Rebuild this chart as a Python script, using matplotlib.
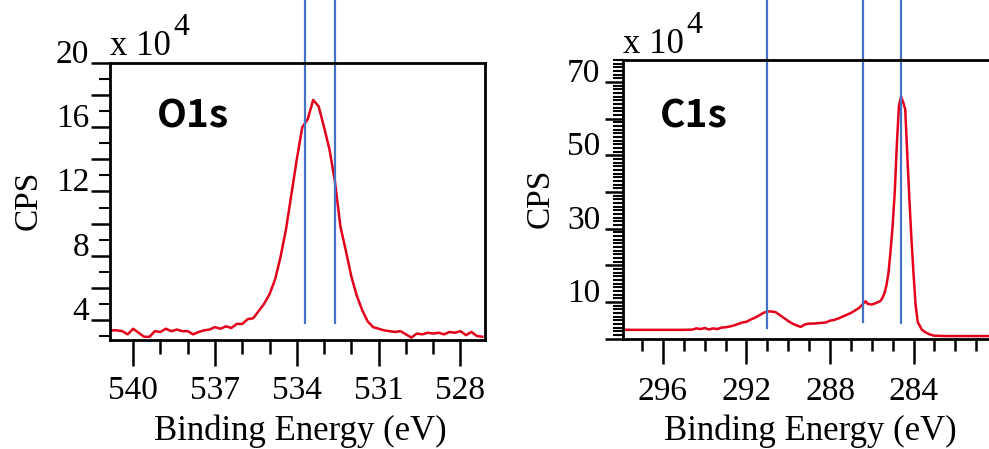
import numpy as np
import matplotlib.pyplot as plt
from matplotlib.ticker import MultipleLocator, FuncFormatter

# O 1s region, 0.2 eV steps from 540.8 down to 527.2 eV (counts in units of 1e4)
o1s_energy = np.round(np.arange(540.8, 527.1, -0.2), 1)
o1s_cps = [3.35, 3.35, 3.30, 3.10, 3.45, 3.20, 2.95, 2.95, 3.30, 3.25,
           3.45, 3.30, 3.40, 3.30, 3.30, 3.10, 3.25, 3.35, 3.40, 3.55,
           3.45, 3.60, 3.50, 3.75, 3.75, 4.05, 4.10, 4.55, 5.00, 5.60,
           6.50, 7.90, 9.60, 11.8, 14.0, 16.0, 16.5, 17.7, 17.3, 16.0,
           14.6, 12.6, 9.80, 8.30, 6.70, 5.50, 4.60, 3.90, 3.55, 3.45,
           3.35, 3.30, 3.25, 3.30, 3.10, 2.90, 3.15, 3.10, 3.20, 3.15,
           3.20, 3.10, 3.25, 3.20, 3.30, 3.05, 3.25, 3.00, 2.95]

# C 1s region (counts in units of 1e4)
c1s_energy = [297.9, 297.0, 296.0, 295.0, 294.6, 294.4, 294.2, 294.0, 293.8, 293.6,
              293.4, 293.2, 293.0, 292.8, 292.6, 292.4, 292.2, 292.0, 291.8, 291.6,
              291.4, 291.2, 291.0, 290.8, 290.6, 290.4, 290.2, 290.0, 289.8, 289.6,
              289.4, 289.2, 289.0, 288.8, 288.6, 288.4, 288.2, 288.0, 287.8, 287.6,
              287.4, 287.2, 287.0, 286.8, 286.6, 286.4, 286.3, 286.2, 286.0, 285.8,
              285.6, 285.5, 285.4, 285.3, 285.2, 285.1, 285.0, 284.9, 284.8, 284.7,
              284.6, 284.5, 284.4, 284.3, 284.2, 284.1, 284.0, 283.9, 283.8, 283.6,
              283.4, 283.2, 283.0, 282.5, 282.0, 281.0, 280.0]
c1s_cps = [2.4, 2.4, 2.4, 2.4, 2.45, 2.8, 2.6, 2.9, 2.5, 2.8,
           2.6, 3.0, 3.1, 3.3, 3.6, 4.0, 4.4, 4.6, 5.2, 5.7,
           6.3, 7.0, 7.4, 7.4, 7.2, 6.4, 5.6, 4.8, 4.1, 3.6,
           3.2, 3.9, 4.1, 4.1, 4.2, 4.3, 4.4, 4.9, 5.1, 5.5,
           6.0, 6.5, 7.0, 7.7, 8.4, 9.6, 10.2, 9.5, 9.3, 9.7,
           10.2, 11.0, 12.3, 14.5, 18.0, 24.0, 31.0, 40.0, 53.0, 63.5,
           66.0, 64.5, 62.5, 50.0, 38.0, 27.0, 17.5, 9.0, 4.5, 2.4,
           1.6, 1.1, 0.8, 0.7, 0.7, 0.7, 0.7]

# component positions marked with vertical lines (eV) and where they stop (1e4 CPS)
o1s_marks = [533.7, 532.6]
o1s_mark_ends = [3.8, 3.8]
c1s_marks = [291.0, 286.4, 284.6]
c1s_mark_ends = [2.9, 4.5, 4.3]

RED = '#e3001b'
BLUE = '#4472c4'
SERIF = ['Liberation Serif', 'DejaVu Serif']

plt.rcParams['font.family'] = SERIF
plt.rcParams['axes.linewidth'] = 2.0

fig = plt.figure(figsize=(9.89, 4.49), dpi=100)
ax1 = fig.add_axes([0.1112, 0.2428, 0.3792, 0.6169])
ax2 = fig.add_axes([0.6302, 0.2450, 0.3780, 0.6214])


def style_axes(ax, xmaj, ymaj, xlen, ylen, xpad, ypad):
    ax.xaxis.set_major_locator(MultipleLocator(xmaj))
    ax.xaxis.set_minor_locator(MultipleLocator(1))
    ax.yaxis.set_major_locator(MultipleLocator(ymaj))
    ax.yaxis.set_minor_locator(MultipleLocator(1))
    ax.tick_params(axis='x', which='major', length=xlen[0], width=1.8, pad=xpad, labelsize=24)
    ax.tick_params(axis='x', which='minor', length=xlen[1], width=1.8)
    ax.tick_params(axis='y', which='major', length=ylen[0], width=1.8, pad=ypad, labelsize=24)
    ax.tick_params(axis='y', which='minor', length=ylen[1], width=1.5)


# O 1s panel
ax1.plot(o1s_energy, o1s_cps, color=RED, lw=1.8)
ax1.set_xlim(540.85, 527.1)
ax1.set_ylim(2.75, 20)
style_axes(ax1, 3, 2, (19, 10), (13.5, 8), 6.5, 1.5)
ax1.yaxis.set_major_formatter(FuncFormatter(
    lambda v, p: '%d' % round(v) if round(v) % 4 == 0 and v > 0 else ''))
for x, y0 in zip(o1s_marks, o1s_mark_ends):
    ax1.plot([x, x], [y0, 30], color=BLUE, lw=1.6, clip_on=False)

# C 1s panel
ax2.plot(c1s_energy, c1s_cps, color=RED, lw=1.8)
ax2.set_xlim(297.9, 280)
ax2.set_ylim(-0.1, 76)
style_axes(ax2, 4, 10, (18, 8.5), (13, 7), 9, 3.5)
ax2.yaxis.set_major_formatter(FuncFormatter(
    lambda v, p: '%d' % round(v) if round(v) % 20 == 10 else ''))
ax2.xaxis.set_major_formatter(FuncFormatter(
    lambda v, p: '%d' % round(v) if v >= 283 else ''))
ax2.spines['right'].set_visible(False)
for x, y0 in zip(c1s_marks, c1s_mark_ends):
    ax2.plot([x, x], [y0, 110], color=BLUE, lw=1.6, clip_on=False)

for ax in (ax1, ax2):
    for t in ax.yaxis.get_major_ticks():
        t.label1.set_verticalalignment('baseline')

# axis titles
fig.text(0.3033, 0.020, 'Binding Energy (eV)', ha='center', va='baseline', fontsize=25)
fig.text(0.819, 0.020, 'Binding Energy (eV)', ha='center', va='baseline', fontsize=25)
fig.text(0.0283, 0.5546, 'CPS', rotation=90, ha='center', va='center', fontsize=24)
fig.text(0.546, 0.559, 'CPS', rotation=90, ha='center', va='center', fontsize=24)

# scale factor
fig.text(0.111, 0.8775, 'x 10', ha='left', va='baseline', fontsize=25)
fig.text(0.175, 0.922, '4', ha='left', va='baseline', fontsize=23)
fig.text(0.630, 0.882, 'x 10', ha='left', va='baseline', fontsize=25)
fig.text(0.694, 0.926, '4', ha='left', va='baseline', fontsize=23)

# region names
GOTHIC = ['Noto Sans CJK JP', 'DejaVu Sans']
fig.text(0.1587, 0.715, 'O1s', ha='left', va='baseline', fontsize=28,
         fontweight='bold', family=GOTHIC)
fig.text(0.667, 0.715, 'C1s', ha='left', va='baseline', fontsize=28,
         fontweight='bold', family=GOTHIC)

fig.savefig('out.png', dpi=100)
